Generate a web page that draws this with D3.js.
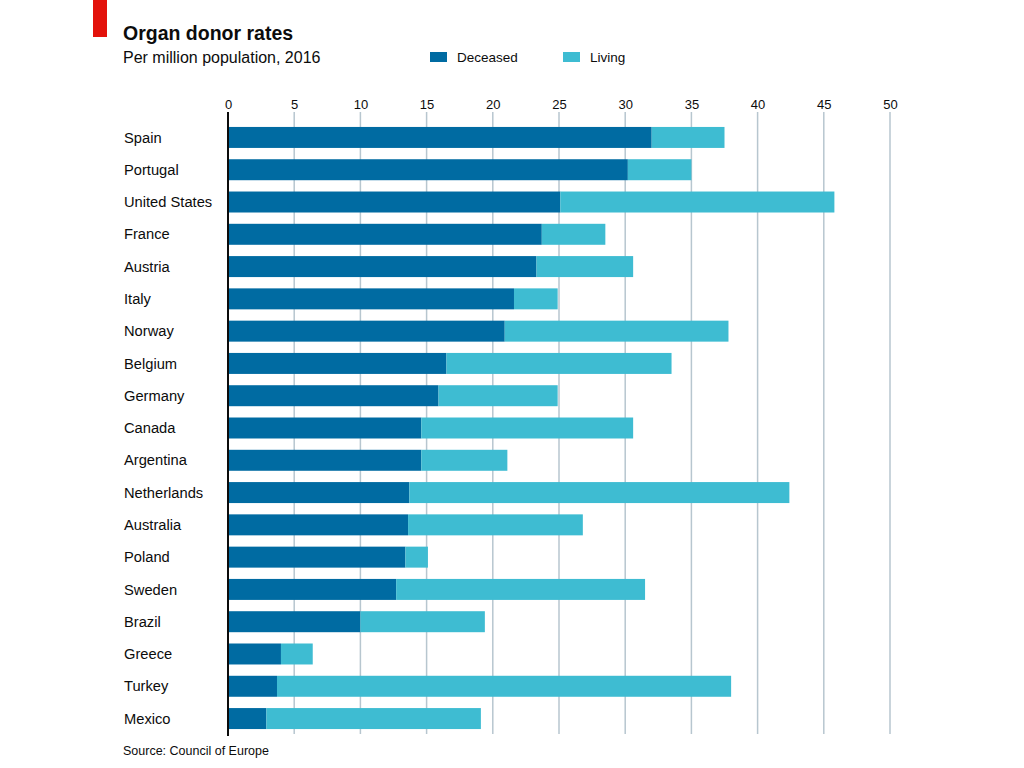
<!DOCTYPE html>
<html>
<head>
<meta charset="utf-8">
<script src="https://cdn.jsdelivr.net/npm/d3@7"></script>
<style>
  html, body { margin: 0; padding: 0; background: #ffffff; }
  svg { display: block; font-family: "Liberation Sans", Arial, sans-serif; }
</style>
</head>
<body>
<svg id="chart" width="1024" height="768"></svg>
<script>
const countries = ["Spain","Portugal","United States","France","Austria","Italy","Norway","Belgium","Germany","Canada","Argentina","Netherlands","Australia","Poland","Sweden","Brazil","Greece","Turkey","Mexico"];
const deceased = [32.0, 30.2, 25.1, 23.7, 23.3, 21.6, 20.9, 16.5, 15.9, 14.6, 14.6, 13.7, 13.6, 13.4, 12.7, 10.0, 4.0, 3.7, 2.9];
const living   = [5.5, 4.8, 20.7, 4.8, 7.3, 3.3, 16.9, 17.0, 9.0, 16.0, 6.5, 28.7, 13.2, 1.7, 18.8, 9.4, 2.4, 34.3, 16.2];
const ticks = [0,5,10,15,20,25,30,35,40,45,50];
const seriesNames = ["Deceased","Living"];
const colors = ["#006BA2","#3EBCD2"];

const svg = d3.select("#chart");
svg.append("rect").attr("width",1024).attr("height",768).attr("fill","#ffffff");

const x = d3.scaleLinear().domain([0,50]).range([228,890]);
const y = d3.scaleBand().domain(countries).range([121.3,734.7]).paddingInner(0.35).paddingOuter(0.175);

// red tag
svg.append("rect").attr("x",93).attr("y",0).attr("width",14).attr("height",37).attr("fill","#E3120B");

// title
svg.append("text").attr("x",123).attr("y",40).attr("font-size",19.5).attr("font-weight","bold").attr("fill","#0C0C0C").text("Organ donor rates");
svg.append("text").attr("x",123).attr("y",63).attr("font-size",16).attr("fill","#0C0C0C").text("Per million population, 2016");

// legend
const lg = svg.append("g");
const legendX = [430, 563];
seriesNames.forEach((n,i)=>{
  lg.append("rect").attr("x",legendX[i]).attr("y",52).attr("width",17).attr("height",10).attr("fill",colors[i]);
  lg.append("text").attr("x",legendX[i]+27).attr("y",62).attr("font-size",13.5).attr("fill","#0C0C0C").text(n);
});

// gridlines
const grid = svg.append("g");
grid.selectAll("line").data(ticks.slice(1)).join("line")
  .attr("x1",d=>x(d)).attr("x2",d=>x(d)).attr("y1",112).attr("y2",734)
  .attr("stroke","#B7C6CF").attr("stroke-width",1.5);

// axis labels on top
const axis = d3.axisTop(x).tickValues(ticks).tickSize(0).tickPadding(0);
const ag = svg.append("g").attr("transform","translate(0,109)").call(axis);
ag.select(".domain").remove();
ag.selectAll("text").attr("font-size",13).attr("fill","#0C0C0C").attr("font-family","Liberation Sans, Arial, sans-serif");

// bars
const rows = countries.map((c,i)=>({c, d:deceased[i], l:living[i]}));
const bg = svg.append("g");
bg.selectAll("rect.dec").data(rows).join("rect").attr("class","dec")
  .attr("x",x(0)).attr("y",d=>y(d.c)).attr("height",y.bandwidth())
  .attr("width",d=>x(d.d)-x(0)).attr("fill",colors[0]);
bg.selectAll("rect.liv").data(rows).join("rect").attr("class","liv")
  .attr("x",d=>x(d.d)).attr("y",d=>y(d.c)).attr("height",y.bandwidth())
  .attr("width",d=>x(d.d+d.l)-x(d.d)).attr("fill",colors[1]);

// zero line
svg.append("line").attr("x1",x(0)).attr("x2",x(0)).attr("y1",112).attr("y2",736)
  .attr("stroke","#0C0C0C").attr("stroke-width",2);

// country labels
svg.append("g").selectAll("text").data(countries).join("text")
  .attr("x",124).attr("y",d=>y(d)+y.bandwidth()/2).attr("dy","0.35em")
  .attr("font-size",14.7).attr("fill","#0C0C0C").text(d=>d);

// source
svg.append("text").attr("x",123).attr("y",755).attr("font-size",12.5).attr("fill","#0C0C0C").text("Source: Council of Europe");
</script>
</body>
</html>
